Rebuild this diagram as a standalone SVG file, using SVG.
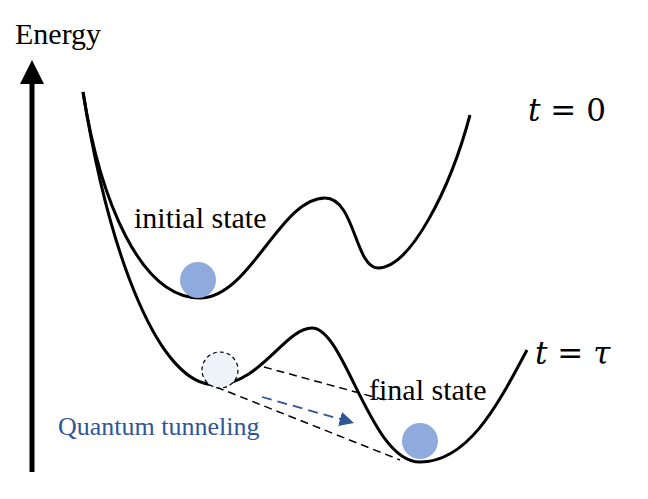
<svg xmlns="http://www.w3.org/2000/svg" width="648" height="499" viewBox="0 0 648 499">
<style>
.c{fill:none;stroke:#000;stroke-width:3}
.t{font-family:"Liberation Serif",serif;font-size:30px;fill:#000}
.m{font-family:"DejaVu Serif",serif;font-size:31px;fill:#000}
.d{stroke:#000;stroke-width:1.5;stroke-dasharray:8,5}
</style>
<defs><marker id="ah" markerWidth="8" markerHeight="8" refX="4" refY="4" orient="auto"><path d="M0,0L8,4L0,8z" fill="#2f5597"/></marker></defs>
<rect width="648" height="499" fill="#fff"/>
<g id="axis"><line x1="32" y1="472" x2="32" y2="80" stroke="#000" stroke-width="5"/><path d="M20,84L32,60L44,84z"/><text class="t" x="15" y="44">Energy</text></g>
<g id="connectors">
<path class="c" d="M83,92C100,200 140,298 200,298C250,298 280,198 325,198C355,198 355,268 378,268C410,268 450,190 470,115"/>
<path class="c" d="M83,92C110,260 160,385 215,385C260,385 285,328 312,328C345,328 370,462 420,462C470,462 500,400 527,350"/>
<line class="d" x1="264" y1="367" x2="385" y2="400"/>
<line class="d" x1="216" y1="387" x2="400" y2="460"/>
<line x1="262" y1="397" x2="347" y2="421" stroke="#2f5597" stroke-width="1.8" stroke-dasharray="10,6" marker-end="url(#ah)"/>
</g>
<g id="initial"><circle cx="198" cy="280" r="18" fill="#8faadc"/><text class="t" x="134" y="228">initial state</text></g>
<g id="ghost"><circle cx="220" cy="370" r="18" fill="#eef2f9" stroke="#000" stroke-width="1.2" stroke-dasharray="4,3"/></g>
<g id="final"><circle cx="420" cy="441" r="18" fill="#8faadc"/><text class="t" x="369" y="400">final state</text></g>
<text x="58" y="435" font-family="Liberation Serif,serif" font-size="26" fill="#2f5597">Quantum tunneling</text>
<text class="m" x="528" y="121"><tspan font-style="italic">t</tspan> = 0</text>
<text class="m" x="535" y="364"><tspan font-style="italic">t</tspan> = <tspan font-style="italic">τ</tspan></text>
</svg>
